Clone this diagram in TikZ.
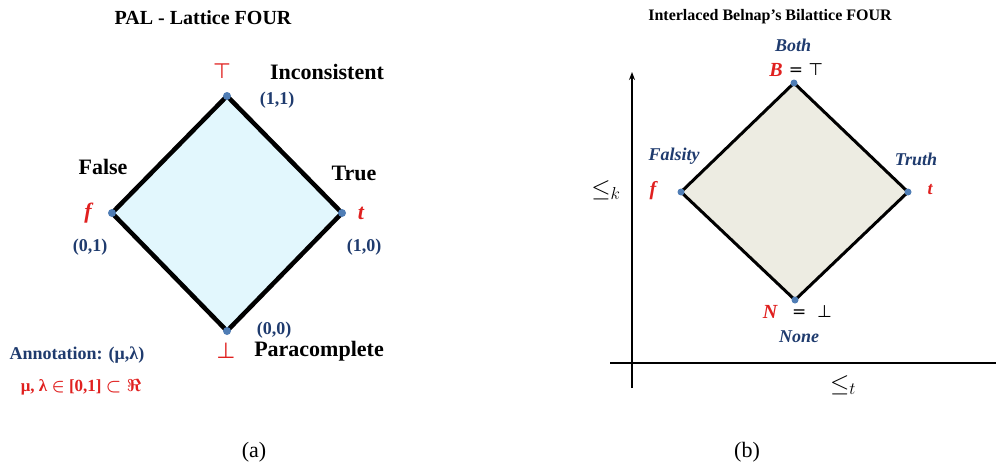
\documentclass[tikz,border=0pt]{standalone}
\usepackage{fontspec}
\setmainfont{Liberation Serif}
\newfontfamily\dejavu{DejaVu Sans}
\usetikzlibrary{arrows.meta}
\definecolor{navy}{HTML}{1F3B6E}
\definecolor{redl}{HTML}{E0201F}
\definecolor{dotb}{HTML}{4F7DB5}
\definecolor{cyanf}{HTML}{E2F7FD}
\definecolor{beigef}{HTML}{EDECE2}
\newcommand{\fs}[1]{\fontsize{#1}{#1}\selectfont}
\begin{document}
\begin{tikzpicture}[x=1pt,y=-1pt,
  txt/.style={inner sep=0pt,anchor=center},
  big/.style={txt,font=\fs{22}\bfseries},
  coord/.style={txt,font=\fs{18}\bfseries,text=navy},
  redsym/.style={txt,font=\fs{22}\bfseries\itshape,text=redl},
  nav/.style={txt,font=\fs{18}\bfseries\itshape,text=navy},
  vdot/.style={circle,fill=dotb,inner sep=0pt,minimum size=8pt},
  edgeA/.style={line width=4.5pt,line join=miter},
  edgeB/.style={line width=3pt,line join=miter},
  axis/.style={line width=1.5pt},
  captxt/.style={txt,font=\fs{22}}
]
\useasboundingbox (0,0) rectangle (996,466);
% ---------- (a) ----------
\node[txt,font=\fs{20}\bfseries] (titleA) at (203,18) {PAL - Lattice FOUR};
\coordinate (aT) at (227,96);
\coordinate (aL) at (112,213);
\coordinate (aR) at (342,213);
\coordinate (aB) at (227,331);
\fill[cyanf] (aT) -- (aR) -- (aB) -- (aL) -- cycle;
\draw[edgeA] (aT) -- (aR) -- (aB) -- (aL) -- cycle;
\node[vdot] (dT) at (aT) {};
\node[vdot] (dL) at (aL) {};
\node[vdot] (dR) at (aR) {};
\node[vdot] (dB) at (aB) {};
\node[txt,font=\dejavu\fs{21},text=redl] (top) at (222,71) {⊤};
\node[big] (incons) at (327,72) {Inconsistent};
\node[coord] (c11) at (277,100) {(1,1)};
\node[big] (false) at (103,167) {False};
\node[big] (true) at (354,173) {True};
\node[redsym] (fA) at (88,213) {f};
\node[redsym] (tA) at (361,213) {t};
\node[coord] (c01) at (90,247) {(0,1)};
\node[coord] (c10) at (364,247) {(1,0)};
\node[coord] (c00) at (274,330) {(0,0)};
\node[txt,font=\dejavu\fs{22},text=redl] (bot) at (226,351) {⊥};
\node[big] (para) at (319,351) {Paracomplete};
\node[txt,font=\fs{18}\bfseries,text=navy] (annot) at (77,355) {Annotation: (μ,λ)};
\node[txt,font=\fs{17}\bfseries\boldmath,text=redl] (range) at (81,387) {μ, λ $\in$ [0,1] $\subset\Re$};
\node[captxt] (capA) at (254,452) {(a)};
% ---------- (b) ----------
\node[txt,font=\fs{16}\bfseries] (titleB) at (770,17) {Interlaced Belnap’s Bilattice FOUR};
\coordinate (axO) at (632,388);
\coordinate (axTop) at (632,72);
\coordinate (axL) at (610,363);
\coordinate (axR) at (996,363);
\draw[axis,-{Stealth[length=8pt,width=6pt]}] (axO) -- (axTop);
\draw[axis] (axL) -- (axR);
\node[txt,font=\fs{27}] (lek) at (606,190) {$\leq_k$};
\node[txt,font=\fs{27}] (let) at (843,385) {$\leq_t$};
\coordinate (bT) at (794,83);
\coordinate (bL) at (681,192);
\coordinate (bR) at (908,192);
\coordinate (bB) at (795,300);
\fill[beigef] (bT) -- (bR) -- (bB) -- (bL) -- cycle;
\draw[edgeB] (bT) -- (bR) -- (bB) -- (bL) -- cycle;
\node[vdot,minimum size=7pt] (eT) at (bT) {};
\node[vdot,minimum size=7pt] (eL) at (bL) {};
\node[vdot,minimum size=7pt] (eR) at (bR) {};
\node[vdot,minimum size=7pt] (eB) at (bB) {};
\node[nav] (both) at (793,45) {Both};
\node[redsym,font=\fs{20}\bfseries\itshape] (Bl) at (776,70) {B};
\node[txt,font=\dejavu\fs{17}] (eqtop) at (806,70) {= ⊤};
\node[nav] (falsity) at (674,156) {Falsity};
\node[nav] (truth) at (916,159) {Truth};
\node[redsym,font=\fs{20}\bfseries\itshape] (fB) at (653,191) {f};
\node[redsym,font=\fs{18}\bfseries\itshape] (tB) at (930,190) {t};
\node[redsym,font=\fs{20}\bfseries\itshape] (Nl) at (770,312) {N};
\node[txt,font=\dejavu\fs{17}] (eqbot) at (812,312) {=\ \ ⊥};
\node[nav] (none) at (799,337) {None};
\node[captxt] (capB) at (747,452) {(b)};
\end{tikzpicture}
\end{document}
